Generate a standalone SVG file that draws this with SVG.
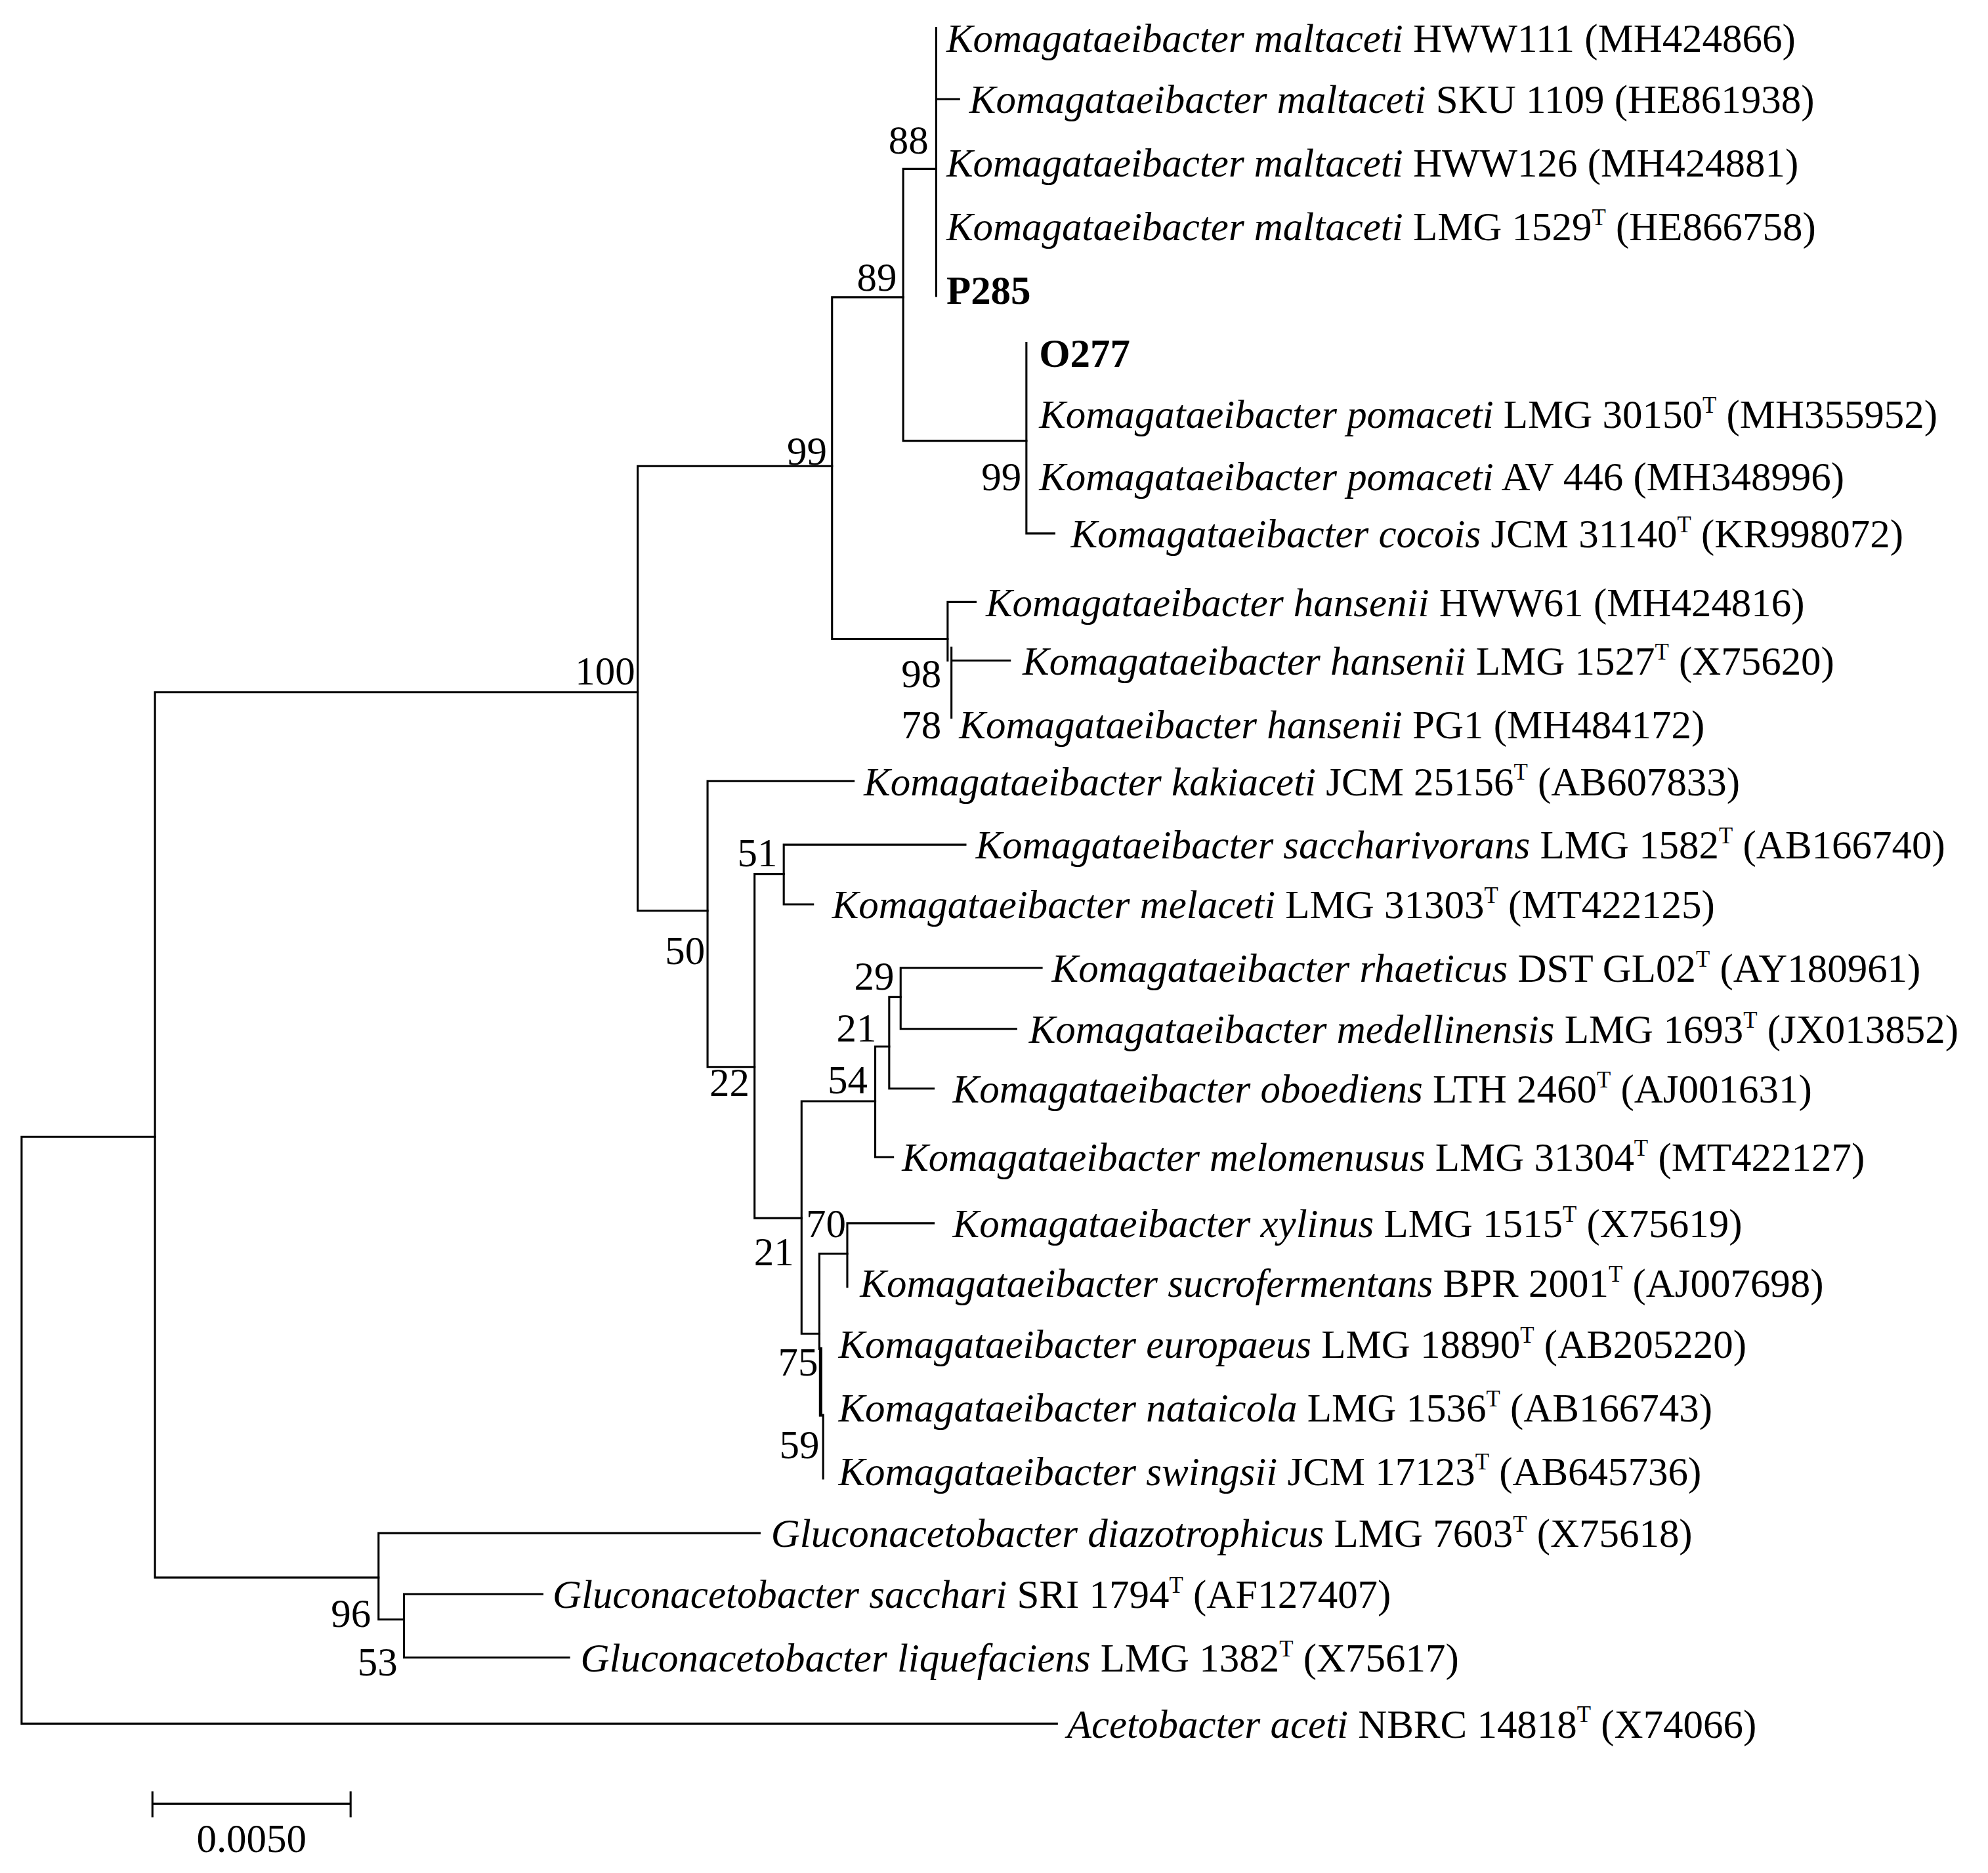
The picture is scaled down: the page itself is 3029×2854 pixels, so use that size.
<svg xmlns="http://www.w3.org/2000/svg" width="3029" height="2854" viewBox="0 0 3029 2854">
<style>
.e{fill:none;stroke:#000;stroke-width:1.6;stroke-linecap:square}
text{font-family:"Liberation Serif","Times New Roman",serif;font-size:31.5px;fill:#000}
.s{font-style:italic}
.b{font-weight:bold}
.sup{font-size:18px}
.n{text-anchor:end}
</style>
<rect width="3029" height="2854" fill="#fff"/>
<g transform="scale(1.93546)">
<g id="connectors" class="e">
<path d="M832 1357H17V895H122"/>
<path d="M502 545H122V1242H298"/>
<path d="M655 367H502V717H557"/>
<path d="M711 234H655V503H746"/>
<path d="M737 133H711V347H808"/>
<path d="M737 22V233M737 78H755"/>
<path d="M808 270V420H830"/>
<path d="M768 474H746V520M750 520H795M749 510V565"/>
<path d="M672 615H557V840H594"/>
<path d="M617 688H594V959H631"/>
<path d="M760 665H617V712H640"/>
<path d="M689 867H631V1050H645"/>
<path d="M700 824H689V911H703"/>
<path d="M709 785H700V857H735"/>
<path d="M820 762H709V810H800"/>
<path d="M667 987H645V1050M645 1050V1062"/>
<path d="M735 963H667V1013"/>
<path d="M648 1114V1164"/>
<path d="M646 1062V1114" style="stroke-width:2.6"/>
<path d="M598 1207H298V1275H318"/>
<path d="M427 1255H318V1305H448"/>
<path d="M120 1420H276M120 1411V1430M276 1411V1430"/>
</g>
<g id="leaves">
<text x="745" y="41"><tspan class="s">Komagataeibacter maltaceti</tspan> HWW111 (MH424866)</text>
<text x="763" y="89"><tspan class="s">Komagataeibacter maltaceti</tspan> SKU 1109 (HE861938)</text>
<text x="745" y="139"><tspan class="s">Komagataeibacter maltaceti</tspan> HWW126 (MH424881)</text>
<text x="745" y="189"><tspan class="s">Komagataeibacter maltaceti</tspan> LMG 1529<tspan class="sup" dy="-12">T</tspan><tspan dy="12"> (HE866758)</tspan></text>
<text x="745" y="239" class="b">P285</text>
<text x="818" y="289" class="b">O277</text>
<text x="818" y="337"><tspan class="s">Komagataeibacter pomaceti</tspan> LMG 30150<tspan class="sup" dy="-12">T</tspan><tspan dy="12"> (MH355952)</tspan></text>
<text x="818" y="386"><tspan class="s">Komagataeibacter pomaceti</tspan> AV 446 (MH348996)</text>
<text x="843" y="431"><tspan class="s">Komagataeibacter cocois</tspan> JCM 31140<tspan class="sup" dy="-12">T</tspan><tspan dy="12"> (KR998072)</tspan></text>
<text x="776" y="485"><tspan class="s">Komagataeibacter hansenii</tspan> HWW61 (MH424816)</text>
<text x="805" y="531"><tspan class="s">Komagataeibacter hansenii</tspan> LMG 1527<tspan class="sup" dy="-12">T</tspan><tspan dy="12"> (X75620)</tspan></text>
<text x="755" y="581"><tspan class="s">Komagataeibacter hansenii</tspan> PG1 (MH484172)</text>
<text x="680" y="626"><tspan class="s">Komagataeibacter kakiaceti</tspan> JCM 25156<tspan class="sup" dy="-12">T</tspan><tspan dy="12"> (AB607833)</tspan></text>
<text x="768" y="676"><tspan class="s">Komagataeibacter saccharivorans</tspan> LMG 1582<tspan class="sup" dy="-12">T</tspan><tspan dy="12"> (AB166740)</tspan></text>
<text x="655" y="723"><tspan class="s">Komagataeibacter melaceti</tspan> LMG 31303<tspan class="sup" dy="-12">T</tspan><tspan dy="12"> (MT422125)</tspan></text>
<text x="828" y="773"><tspan class="s">Komagataeibacter rhaeticus</tspan> DST GL02<tspan class="sup" dy="-12">T</tspan><tspan dy="12"> (AY180961)</tspan></text>
<text x="810" y="821"><tspan class="s">Komagataeibacter medellinensis</tspan> LMG 1693<tspan class="sup" dy="-12">T</tspan><tspan dy="12"> (JX013852)</tspan></text>
<text x="750" y="868"><tspan class="s">Komagataeibacter oboediens</tspan> LTH 2460<tspan class="sup" dy="-12">T</tspan><tspan dy="12"> (AJ001631)</tspan></text>
<text x="710" y="922"><tspan class="s">Komagataeibacter melomenusus</tspan> LMG 31304<tspan class="sup" dy="-12">T</tspan><tspan dy="12"> (MT422127)</tspan></text>
<text x="750" y="974"><tspan class="s">Komagataeibacter xylinus</tspan> LMG 1515<tspan class="sup" dy="-12">T</tspan><tspan dy="12"> (X75619)</tspan></text>
<text x="677" y="1021"><tspan class="s">Komagataeibacter sucrofermentans</tspan> BPR 2001<tspan class="sup" dy="-12">T</tspan><tspan dy="12"> (AJ007698)</tspan></text>
<text x="660" y="1069"><tspan class="s">Komagataeibacter europaeus</tspan> LMG 18890<tspan class="sup" dy="-12">T</tspan><tspan dy="12"> (AB205220)</tspan></text>
<text x="660" y="1119"><tspan class="s">Komagataeibacter nataicola</tspan> LMG 1536<tspan class="sup" dy="-12">T</tspan><tspan dy="12"> (AB166743)</tspan></text>
<text x="660" y="1169"><tspan class="s">Komagataeibacter swingsii</tspan> JCM 17123<tspan class="sup" dy="-12">T</tspan><tspan dy="12"> (AB645736)</tspan></text>
<text x="607" y="1218"><tspan class="s">Gluconacetobacter diazotrophicus</tspan> LMG 7603<tspan class="sup" dy="-12">T</tspan><tspan dy="12"> (X75618)</tspan></text>
<text x="435" y="1266"><tspan class="s">Gluconacetobacter sacchari</tspan> SRI 1794<tspan class="sup" dy="-12">T</tspan><tspan dy="12"> (AF127407)</tspan></text>
<text x="457" y="1316"><tspan class="s">Gluconacetobacter liquefaciens</tspan> LMG 1382<tspan class="sup" dy="-12">T</tspan><tspan dy="12"> (X75617)</tspan></text>
<text x="840" y="1368"><tspan class="s">Acetobacter aceti</tspan> NBRC 14818<tspan class="sup" dy="-12">T</tspan><tspan dy="12"> (X74066)</tspan></text>
</g>
<g id="bootstrap">
<text class="n" x="731" y="121">88</text>
<text class="n" x="706" y="229">89</text>
<text class="n" x="651" y="366">99</text>
<text class="n" x="500" y="539">100</text>
<text class="n" x="804" y="386">99</text>
<text class="n" x="741" y="541">98</text>
<text class="n" x="741" y="581">78</text>
<text class="n" x="612" y="682">51</text>
<text class="n" x="555" y="759">50</text>
<text class="n" x="704" y="779">29</text>
<text class="n" x="690" y="820">21</text>
<text class="n" x="683" y="861">54</text>
<text class="n" x="590" y="863">22</text>
<text class="n" x="666" y="974">70</text>
<text class="n" x="625" y="996">21</text>
<text class="n" x="644" y="1083">75</text>
<text class="n" x="645" y="1148">59</text>
<text class="n" x="292" y="1281">96</text>
<text class="n" x="313" y="1319">53</text>
</g>
<text id="scale" x="198" y="1458" text-anchor="middle">0.0050</text>
</g>
</svg>
